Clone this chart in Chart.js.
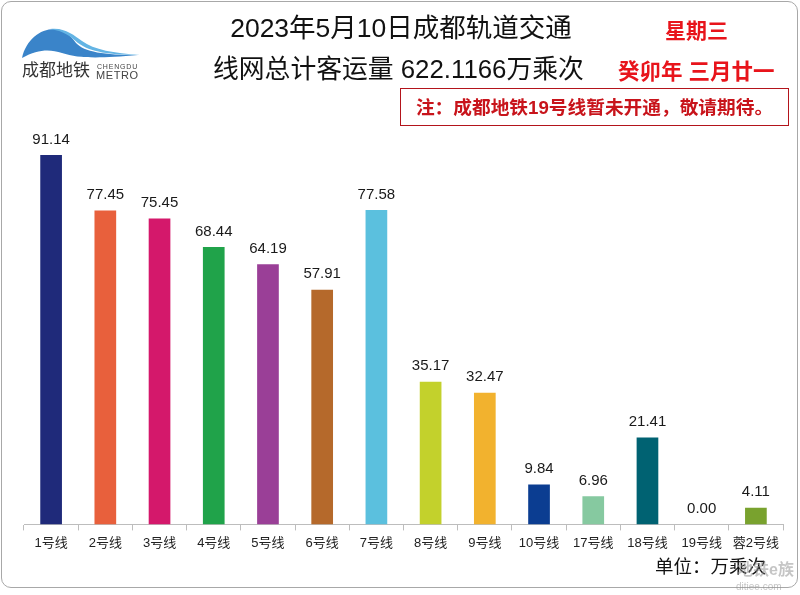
<!DOCTYPE html>
<html>
<head>
<meta charset="utf-8">
<script src="https://cdn.jsdelivr.net/npm/chart.js@4.4.0/dist/chart.umd.min.js"></script>
<style>
  html, body { margin: 0; padding: 0; background: #fff; }
  body { width: 800px; height: 595px; position: relative; overflow: hidden;
         font-family: "Liberation Sans", Arial, "Noto Sans CJK SC", sans-serif; }
  #frame { position: absolute; left: 1px; top: 1px; width: 795px; height: 585px;
           border: 1px solid #a8a8a8; border-radius: 10px; }
  #chart { position: absolute; left: 0; top: 0; }
  .t { position: absolute; white-space: nowrap; line-height: 1; }
  #title1 { left: 0; width: 802px; text-align: center; top: 15px; font-size: 26.5px; color: #111; }
  #title2 { left: 213px; top: 57px; font-size: 25.8px; color: #111; }
  #week { left: 665px; top: 20px; font-size: 21px; font-weight: bold; color: #e8141b; }
  #lunar { left: 618px; top: 62px; font-size: 21.5px; font-weight: bold; color: #e8141b; }
  #note { left: 400px; top: 88px; width: 387px; height: 36px; border: 1.5px solid #b3141b;
          font-size: 18.7px; font-weight: bold; color: #c8141b; text-align: center; line-height: 37px; }
  #unit { left: 655px; top: 558px; font-size: 18.5px; color: #111; }
  #logoTxt { left: 22px; top: 62px; font-size: 17px; color: #333; }
  #logoEn1 { left: 97px; top: 63px; font-size: 7px; color: #444; letter-spacing: 0.8px; }
  #logoEn2 { left: 96px; top: 70px; font-size: 11px; color: #444; letter-spacing: 0.6px; }
  #wm1 { left: 737px; top: 562px; font-size: 16px; color: rgba(150,150,150,0.55); font-weight: bold; }
  #wm2 { left: 736px; top: 582px; font-size: 10px; color: rgba(150,150,150,0.55); }
</style>
</head>
<body>
<div id="frame"></div>
<canvas id="chart" width="800" height="595"></canvas>
<svg class="t" style="left:20px;top:24px" width="122" height="38" viewBox="0 0 122 38">
  <path d="M2 34 C 6 16, 20 5, 34 5 C 44 5, 50 11, 56 19 C 64 28, 84 31, 118 31 C 82 34, 60 35, 42 29 C 30 25, 18 25, 2 34 Z" fill="#3a84c9"/>
  <path d="M30 5 C 44 3, 54 11, 62 17 C 74 26, 94 29, 120 31 C 90 31, 70 28, 58 19 C 50 12, 44 7, 30 5 Z" fill="#63b4e4"/>
</svg>
<div class="t" id="logoTxt">成都地铁</div>
<div class="t" id="logoEn1">CHENGDU</div>
<div class="t" id="logoEn2">METRO</div>
<div class="t" id="title1">2023年5月10日成都轨道交通</div>
<div class="t" id="title2">线网总计客运量 622.1166万乘次</div>
<div class="t" id="week">星期三</div>
<div class="t" id="lunar">癸卯年 三月廿一</div>
<div class="t" id="note">注：成都地铁19号线暂未开通，敬请期待。</div>
<div class="t" id="unit">单位：万乘次</div>
<div class="t" id="wm1">地铁e族</div>
<div class="t" id="wm2">ditiee.com</div>
<script>
// 各线路客运量（万乘次）
const lines = ['1号线', '2号线', '3号线', '4号线', '5号线', '6号线', '7号线',
               '8号线', '9号线', '10号线', '17号线', '18号线', '19号线', '蓉2号线'];
const volumes = [91.14, 77.45, 75.45, 68.44, 64.19, 57.91, 77.58,
                 35.17, 32.47, 9.84, 6.96, 21.41, 0.00, 4.11];
const lineColors = ['#1f2a7a', '#e8603c', '#d4186b', '#20a34a', '#9a3f97', '#b5692b', '#5bc0de',
                    '#c3d12c', '#f2b22e', '#0b3d91', '#86c9a0', '#006272', '#888888', '#79a22e'];

// 柱顶数值
const valueLabels = {
  id: 'valueLabels',
  afterDatasetsDraw(chart) {
    const ctx = chart.ctx;
    const meta = chart.getDatasetMeta(0);
    ctx.save();
    ctx.font = '15px "Liberation Sans", Arial, sans-serif';
    ctx.fillStyle = '#1a1a1a';
    ctx.textAlign = 'center';
    ctx.textBaseline = 'bottom';
    meta.data.forEach((bar, i) => {
      ctx.fillText(volumes[i].toFixed(2), bar.x, bar.y - 8);
    });
    ctx.restore();
  }
};

new Chart(document.getElementById('chart'), {
  type: 'bar',
  data: {
    labels: lines,
    datasets: [{
      data: volumes,
      backgroundColor: lineColors,
      borderWidth: 0,
      barPercentage: 0.8,
      categoryPercentage: 0.5
    }]
  },
  options: {
    responsive: false,
    animation: false,
    layout: { padding: { left: 24, right: 17, top: 119, bottom: 39 } },
    plugins: { legend: { display: false }, tooltip: { enabled: false } },
    scales: {
      x: {
        grid: { offset: true, drawOnChartArea: false, tickLength: 6, color: '#bdbdbd' },
        border: { color: '#bdbdbd' },
        ticks: { color: '#222', font: { size: 13, family: '"Liberation Sans", Arial, "Noto Sans CJK SC"' }, padding: 5, maxRotation: 0 }
      },
      y: {
        display: false,
        min: 0,
        max: 100
      }
    }
  },
  plugins: [valueLabels]
});
</script>
</body>
</html>
